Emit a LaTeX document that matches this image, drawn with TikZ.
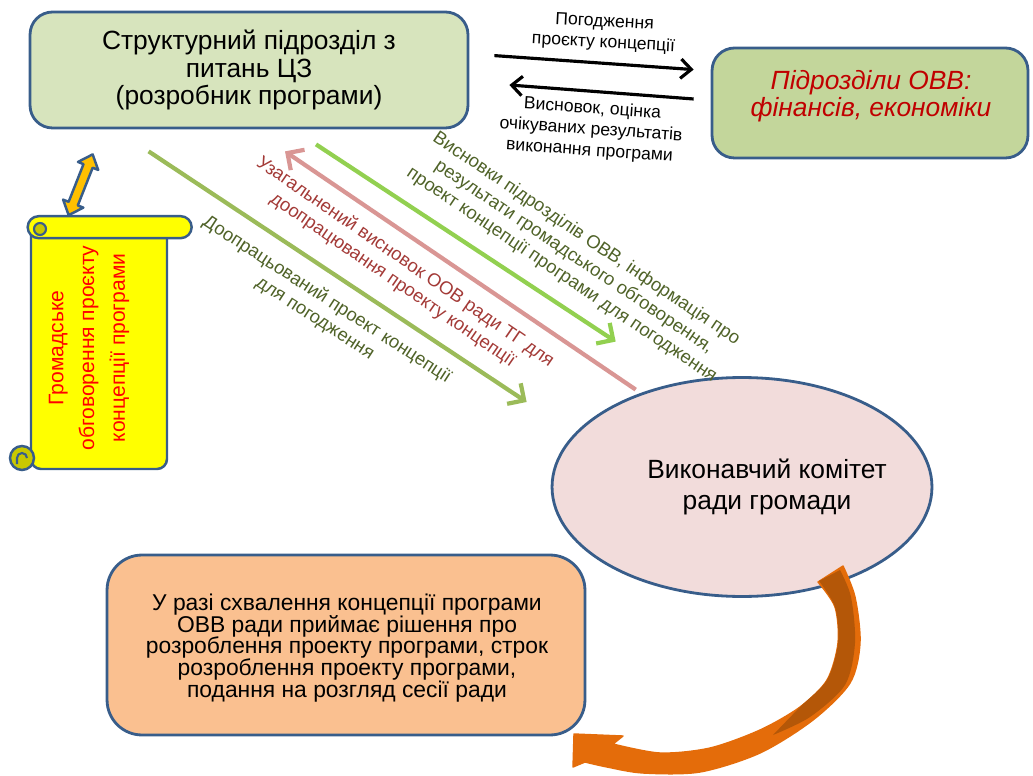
\documentclass[tikz,border=0pt]{standalone}
\usepackage{fontspec}
\setmainfont{Liberation Sans}
\usepackage{xcolor}
\usepackage{tikz}
\usetikzlibrary{calc,arrows.meta,positioning,shapes}

\definecolor{rimblue}{HTML}{385D8A}
\definecolor{boxgreen}{HTML}{D7E4BD}
\definecolor{boxolive}{HTML}{C3D69B}
\definecolor{pinkfill}{HTML}{F2DCDB}
\definecolor{peach}{HTML}{FAC090}
\definecolor{scrollyel}{HTML}{FFFF00}
\definecolor{curlyel}{HTML}{C8C800}
\definecolor{amber}{HTML}{FFC000}
\definecolor{olivearr}{HTML}{9BBB59}
\definecolor{pinkarr}{HTML}{D99694}
\definecolor{greenarr}{HTML}{92D050}
\definecolor{orangearr}{HTML}{E46C0A}
\definecolor{darkorange}{HTML}{B45708}
\definecolor{darkolive}{HTML}{4F6228}
\definecolor{darkred}{HTML}{A33A37}
\definecolor{redtxt}{HTML}{C00000}

\begin{document}
\begin{tikzpicture}[x=0.02cm,y=-0.02cm,
    box/.style={draw=rimblue, line width=1.6pt, rounded corners=0.45cm, align=center, inner sep=0pt},
    arr/.style={line width=2.4pt, -{Straight Barb[length=7pt,width=14pt]}},
    blkarr/.style={line width=1.8pt, -{Straight Barb[length=6pt,width=11pt]}},
    lbl/.style={align=center, font=\fontsize{10.5}{12.5}\selectfont, inner sep=0pt},
    scrollst/.style={draw=rimblue, line width=1.4pt, fill=scrollyel},
    dblarr/.style={draw=rimblue, line width=1.4pt, fill=amber, line join=round}]
  \useasboundingbox (0,0) rectangle (1033,776);

  % main boxes
  \node[box, fill=boxgreen, minimum width=8.76cm, minimum height=2.32cm,
        font=\fontsize{15}{15.5}\selectfont] (razrob) at (249,70)
        {Структурний підрозділ з\\питань ЦЗ\\(розробник програми)};
  \node[box, fill=boxolive, minimum width=6.32cm, minimum height=2.2cm] (ovv) at (870,103) {};
  \node[align=center, inner sep=0pt, text=redtxt, font=\fontsize{15}{15.5}\selectfont\itshape]
        (ovvtxt) at (871,96) {Підрозділи ОВВ:\\фінансів, економіки};
  \node[ellipse, draw=rimblue, line width=1.6pt, fill=pinkfill, minimum width=7.6cm,
        minimum height=4.38cm] (vykom) at (742,487) {};
  \node[align=center, inner sep=0pt, font=\fontsize{15}{18}\selectfont] (vykomtxt) at (767,487)
        {Виконавчий комітет\\ради громади};
  \node[box, rounded corners=0.7cm, fill=peach, minimum width=9.56cm, minimum height=3.6cm] (rishennia) at (346,645) {};
  \node[align=center, inner sep=0pt, font=\fontsize{13}{12.4}\selectfont] (rishtxt) at (347,648)
        {У разі схвалення концепції програми\\ОВВ ради приймає рішення про\\розроблення проекту програми, строк\\розроблення проекту програми,\\подання на розгляд сесії ради};

  % scroll
  \node[minimum width=3.28cm, minimum height=5.06cm, inner sep=0pt] (scroll) at (110,343) {};
  \filldraw[scrollst, rounded corners=0.2cm] (31,232) -- (31,469) -- (167,469) -- (167,232);
  \filldraw[scrollst] (scroll.north west) ++(11,0) -- ++(142,0) arc[start angle=90, end angle=-90, radius=0.22cm]
        -- ++(-142,0) arc[start angle=270, end angle=90, radius=0.22cm] -- cycle;
  \filldraw[draw=rimblue, line width=1.2pt, fill=curlyel] (40,229) circle (0.12cm);
  \filldraw[draw=rimblue, line width=1.4pt, fill=curlyel] (22,458) circle (0.24cm);
  \draw[rimblue, line width=1.2pt] (27,458) arc[start angle=0, end angle=180, radius=0.1cm] -- (17,464);
  \node[rotate=90, text=red, align=center, inner sep=0pt,
        font=\fontsize{12}{17.5}\selectfont] (gromad) at (89,348)
        {Громадське\\обговорення проєкту\\концепції програми};

  % double arrow scroll <-> box
  \coordinate (dlow) at ($(scroll.north west)+(41,-1)$);
  \coordinate (dup) at ($(razrob.south west)+(64,25)$);
  \coordinate (dlow1) at ($(dlow)!0.19!(dup)$);
  \coordinate (dup1) at ($(dup)!0.19!(dlow)$);
  \filldraw[dblarr] (dup) -- ($(dup1)!6.2pt!-90:(dup)$) -- ($(dup1)!2.8pt!-90:(dup)$)
    -- ($(dlow1)!2.8pt!90:(dlow)$) -- ($(dlow1)!6.2pt!90:(dlow)$) -- (dlow)
    -- ($(dlow1)!6.2pt!-90:(dlow)$) -- ($(dlow1)!2.8pt!-90:(dlow)$)
    -- ($(dup1)!2.8pt!90:(dup)$) -- ($(dup1)!6.2pt!90:(dup)$) -- cycle;

  % arrows to the right box
  \draw[blkarr] ($(razrob.north east)+(25,45)$) -- ($(ovv.north west)+(-17,23)$);
  \draw[blkarr] ($(ovv.west)+(-17,-4)$) -- ($(razrob.east)+(40,15)$);
  \node[lbl, rotate=-3, font=\fontsize{10}{12}\selectfont] (pogodz) at (604,33)
        {Погодження\\проєкту концепції};
  \node[lbl, rotate=-4, font=\fontsize{10}{12}\selectfont] (vysnovok) at (591,130)
        {Висновок, оцінка\\очікуваних результатів\\виконання програми};

  % diagonal arrows
  \draw[arr, olivearr] ($(razrob.south west)+(120,22)$) -- ($(vykom.west)+(-24,-85)$);
  \draw[arr, pinkarr] ($(vykom.north west)+(29,-19)$) -- ($(razrob.south)+(36,22)$);
  \draw[arr, greenarr] ($(razrob.south)+(67,15)$) -- ($(vykom.north west)+(9,-67)$);
  \node[lbl, rotate=-34, text=darkolive] (vysnovky) at (574,257)
        {Висновки підрозділів ОВВ, інформація про\\результати громадського обговорення,\\проект концепції програми для погодження};
  \node[lbl, rotate=-34.5, text=darkred] (uzahal) at (399,271)
        {Узагальнений висновок ООВ ради ТГ для\\доопрацювання проекту концепції};
  \node[lbl, rotate=-33, text=darkolive] (doopr) at (321,309)
        {Доопрацьований проект концепції\\для погодження};

  % curved arrow from the committee to the decision
  \filldraw[fill=orangearr, draw=orangearr, line width=0.8pt, line join=round] (818,582) -- (843,566)
    -- plot[smooth] coordinates {(843,566) (855,597) (860,643) (850,683) (813,720) (760,753) (700,772) (643,773) (607,767) (585,762)}
    -- (573,767) -- (574,734) -- (623,736)
    -- plot[smooth] coordinates {(613,744) (660,753) (710,748) (760,730) (800,707) (827,680) (838,643) (835,607) (818,582)}
    -- cycle;
  \fill[darkorange] (819,581) -- (840,570)
    -- plot[smooth] coordinates {(840,570) (851,597) (855,643) (845,685) (810,717) (773,735)}
    -- plot[smooth] coordinates {(773,735) (800,707) (827,680) (838,643) (835,607) (819,581)}
    -- cycle;
\end{tikzpicture}
\end{document}
